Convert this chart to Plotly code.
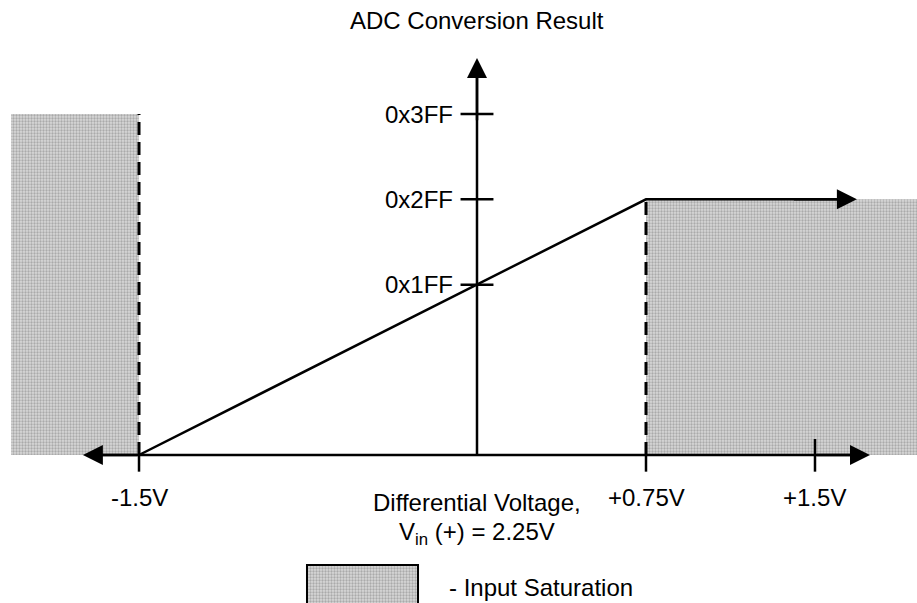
import plotly.graph_objects as go

# ---- data ----
volt_ticks = [-1.5, 0.75, 1.5]
volt_labels = ["-1.5V", "+0.75V", "+1.5V"]
code_ticks = [0x1FF, 0x2FF, 0x3FF]
code_labels = ["0x1FF", "0x2FF", "0x3FF"]

transfer_v = [-1.5, 0.75, 1.686]
transfer_code = [0, 767, 767]

sat_left_v = [-2.068, -1.5]
sat_left_top = 1023
sat_right_v = [0.75, 1.96]
sat_right_top = 767

title_text = "ADC Conversion Result"
xlabel_1 = "Differential Voltage,"
xlabel_2 = "V<sub>in</sub> (+) = 2.25V"
legend_text = "- Input Saturation"

FONT = dict(family="Liberation Sans, Arial, sans-serif", size=24, color="black")
XR = [-2.1169, 1.9527]
YR = [-444, 1365]

fig = go.Figure()

fill_kw = dict(fillcolor="#c8c8c8",
               fillpattern=dict(shape=".", size=3, solidity=0.45,
                                fgcolor="#aaaaaa", bgcolor="#d8d8d8", fillmode="replace"))

def rect(x0, x1, y0, y1, line=None):
    fig.add_trace(go.Scatter(
        x=[x0, x1, x1, x0, x0], y=[y0, y0, y1, y1, y0], mode="lines",
        fill="toself", line=line or dict(width=0), showlegend=False,
        hoverinfo="skip", **fill_kw))

# saturation regions
rect(sat_left_v[0], sat_left_v[1], 0, sat_left_top)
rect(sat_right_v[0], sat_right_v[1], 0, sat_right_top)

# legend key box
rect(-0.7545, -0.2618, -480, -330, line=dict(color="black", width=2))

# dashed limits
for v, top in [(sat_left_v[1], sat_left_top), (sat_right_v[0], sat_right_top)]:
    fig.add_trace(go.Scatter(x=[v, v], y=[0, top], mode="lines",
                             line=dict(color="black", width=3, dash="13px,7px"),
                             showlegend=False, hoverinfo="skip"))

# axes lines
fig.add_trace(go.Scatter(x=[-1.70, 1.70], y=[0, 0], mode="lines",
                         line=dict(color="black", width=2.5), showlegend=False, hoverinfo="skip"))
fig.add_trace(go.Scatter(x=[0, 0], y=[0, 1150], mode="lines",
                         line=dict(color="black", width=2.5), showlegend=False, hoverinfo="skip"))

# ticks
tx, ty = [], []
for v in volt_ticks:
    top = 48 if v == volt_ticks[-1] else 0
    tx += [v, v, None]
    ty += [top, -50, None]
for c in code_ticks:
    tx += [-0.073, 0.073, None]
    ty += [c, c, None]
fig.add_trace(go.Scatter(x=tx, y=ty, mode="lines", line=dict(color="black", width=2.5),
                         showlegend=False, hoverinfo="skip"))

# transfer function
fig.add_trace(go.Scatter(x=transfer_v[:-1] + [transfer_v[-1] - 0.05], y=transfer_code, mode="lines",
                         line=dict(color="black", width=2.5), showlegend=False, hoverinfo="skip"))

# arrow heads
def arrow(x, y, ax, ay):
    fig.add_annotation(x=x, y=y, ax=ax, ay=ay, xref="x", yref="y", axref="x", ayref="y",
                       text="", showarrow=True, arrowhead=2, arrowsize=1.6,
                       arrowwidth=2.5, arrowcolor="black")

arrow(0, 1191, 0, 1000)
arrow(1.744, 0, 1.5, 0)
arrow(-1.749, 0, -1.5, 0)
arrow(transfer_v[-1], transfer_code[-1], 1.4, transfer_code[-1])

# labels
for v, lab in zip(volt_ticks, volt_labels):
    fig.add_annotation(x=v, y=-126, text=lab, showarrow=False, font=FONT,
                       xanchor="center", yanchor="middle")
for c, lab in zip(code_ticks, code_labels):
    fig.add_annotation(x=-0.1065, y=c, text=lab, showarrow=False, font=FONT,
                       xanchor="right", yanchor="middle", xshift=2)

fig.add_annotation(x=0, y=1305, text=title_text, showarrow=False, font=FONT,
                   xanchor="center", yanchor="middle")
fig.add_annotation(x=0, y=-141, text=xlabel_1, showarrow=False, font=FONT,
                   xanchor="center", yanchor="middle")
fig.add_annotation(x=0, y=-234, text=xlabel_2, showarrow=False, font=FONT,
                   xanchor="center", yanchor="middle")
fig.add_annotation(x=-0.133, y=-396, text=legend_text, showarrow=False, font=FONT,
                   xanchor="left", yanchor="middle")

fig.update_layout(
    width=917, height=603, margin=dict(l=0, r=0, t=0, b=0),
    paper_bgcolor="white", plot_bgcolor="white",
    xaxis=dict(range=XR, visible=False, fixedrange=True),
    yaxis=dict(range=YR, visible=False, fixedrange=True),
    showlegend=False,
)

fig.write_html("out.html", config={"displayModeBar": False, "staticPlot": True},
               post_script="document.body.style.margin='0';document.body.style.overflow='hidden';")
